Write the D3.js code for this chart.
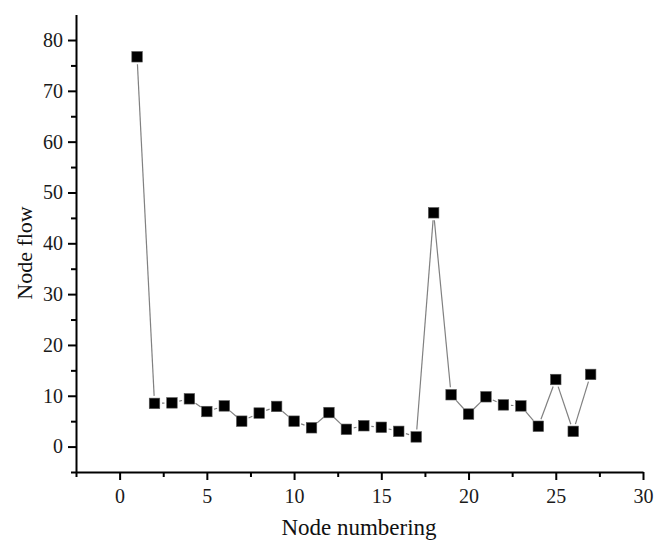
<!DOCTYPE html>
<html>
<head>
<meta charset="utf-8">
<script src="https://cdn.jsdelivr.net/npm/d3@7"></script>
</head>
<body style="margin:0">
<svg id="chart" width="656" height="540" style="display:block;font-family:'Liberation Serif'"></svg>
<script>
const nodes = [1,2,3,4,5,6,7,8,9,10,11,12,13,14,15,16,17,18,19,20,21,22,23,24,25,26,27];
const flow  = [76.7,8.5,8.6,9.4,6.9,8.0,5.0,6.6,7.9,5.0,3.7,6.7,3.4,4.1,3.8,3.0,1.9,46.0,10.2,6.4,9.8,8.2,8.0,4.0,13.2,3.0,14.2];
const xMajorTicks = [0,5,10,15,20,25,30];
const xMinorTicks = [-2.5,2.5,7.5,12.5,17.5,22.5,27.5];
const yMajorTicks = [0,10,20,30,40,50,60,70,80];
const yMinorTicks = [-5,5,15,25,35,45,55,65,75];
const xTitle = "Node numbering";
const yTitle = "Node flow";

const FONT = '"Liberation Serif"';
const svg = d3.select("#chart");
const x = d3.scaleLinear().domain([-2.5, 30]).range([76, 643]);
const y = d3.scaleLinear().domain([-5, 85]).range([472, 14.6]);

const data = nodes.map((n, i) => ({ n, v: flow[i] }));

function styleAxis(g) {
  g.attr("font-family", null).attr("font-size", null);
  g.select(".domain").attr("stroke", "#000").attr("stroke-width", 2);
  g.selectAll(".tick line").attr("stroke", "#000").attr("stroke-width", 2);
  g.selectAll(".tick text").style("font-family", FONT).style("font-size", "20px").attr("fill", "#1a1a1a");
}

const gxMinor = svg.append("g").attr("transform", `translate(0,${y(-5)})`)
  .call(d3.axisBottom(x).tickValues(xMinorTicks).tickSize(5).tickSizeOuter(0).tickFormat(""));
gxMinor.select(".domain").remove();
gxMinor.selectAll(".tick text").remove();
gxMinor.selectAll(".tick line").attr("stroke", "#000").attr("stroke-width", 2);

const gx = svg.append("g").attr("transform", `translate(0,${y(-5)})`)
  .call(d3.axisBottom(x).tickValues(xMajorTicks).tickSize(8).tickSizeOuter(0).tickPadding(9).tickFormat(d3.format("d")));
styleAxis(gx);

const gyMinor = svg.append("g").attr("transform", `translate(${x(-2.5)},0)`)
  .call(d3.axisLeft(y).tickValues(yMinorTicks).tickSize(5).tickSizeOuter(0).tickFormat(""));
gyMinor.select(".domain").remove();
gyMinor.selectAll(".tick text").remove();
gyMinor.selectAll(".tick line").attr("stroke", "#000").attr("stroke-width", 2);

const gy = svg.append("g").attr("transform", `translate(${x(-2.5)},0)`)
  .call(d3.axisLeft(y).tickValues(yMajorTicks).tickSize(8).tickSizeOuter(0).tickPadding(5).tickFormat(d3.format("d")));
styleAxis(gy);

// line segments with gaps near markers
const gap = 7.5;
const segs = [];
for (let i = 0; i < data.length - 1; i++) {
  const x1 = x(data[i].n), y1 = y(data[i].v), x2 = x(data[i+1].n), y2 = y(data[i+1].v);
  const dx = x2 - x1, dy = y2 - y1, L = Math.hypot(dx, dy);
  if (L > 2 * gap + 0.5) {
    const ux = dx / L, uy = dy / L;
    segs.push([x1 + ux * gap, y1 + uy * gap, x2 - ux * gap, y2 - uy * gap]);
  }
}
svg.append("g").selectAll("line").data(segs).join("line")
  .attr("x1", d => d[0]).attr("y1", d => d[1]).attr("x2", d => d[2]).attr("y2", d => d[3])
  .attr("stroke", "#808080").attr("stroke-width", 1.2);

// markers
const ms = 10.5;
svg.append("g").selectAll("rect").data(data).join("rect")
  .attr("x", d => x(d.n) - ms / 2).attr("y", d => y(d.v) - ms / 2)
  .attr("width", ms).attr("height", ms)
  .attr("fill", "#000").attr("stroke", "#555").attr("stroke-width", 0.6);

// titles
svg.append("text").attr("x", 359).attr("y", 535).attr("text-anchor", "middle")
  .style("font-family", FONT).style("font-size", "23px").attr("fill", "#111").text(xTitle);
svg.append("text").attr("transform", `translate(32,${253}) rotate(-90)`).attr("text-anchor", "middle")
  .style("font-family", FONT).style("font-size", "22px").attr("fill", "#111").text(yTitle);
</script>
</body>
</html>
